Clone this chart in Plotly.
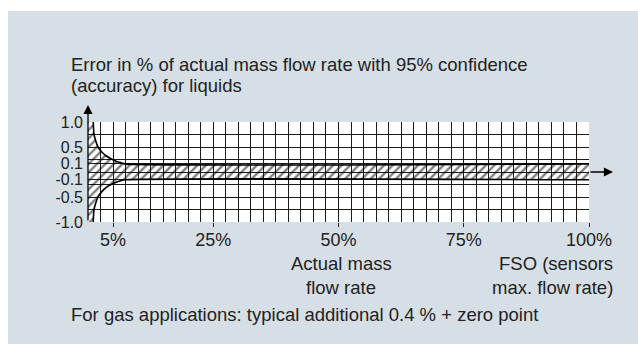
import plotly.graph_objects as go

# ---- data (x in % of FSO, y in visual grid rows: 1 row = one grid step) ----
X_UP = [1.05, 1.1, 1.2, 1.5, 2.0, 2.8, 3.6, 4.4, 5.6, 6.5, 7.4, 100]
Y_UP = [4.0, 3.5, 3.02, 2.54, 2.0, 1.58, 1.3, 1.1, 0.86, 0.75, 0.65, 0.65]
X_LO = [1.05, 1.1, 1.2, 1.5, 2.0, 2.8, 3.6, 4.4, 5.6, 6.5, 7.4, 100]
Y_LO = [-4.0, -3.5, -3.02, -2.54, -2.0, -1.55, -1.25, -1.05, -0.82, -0.7, -0.62, -0.62]

X_TICKS = [5, 25, 50, 75, 100]
X_LABELS = ["5%", "25%", "50%", "75%", "100%"]
Y_TICKS = [4, 2, 0.65, -0.62, -2, -4]
Y_LABELS = ["1.0", "0.5", "0.1", "-0.1", "-0.5", "-1.0"]

TITLE1 = "Error in % of actual mass flow rate with 95% confidence"
TITLE2 = "(accuracy) for liquids"
XLAB = ["Actual mass", "flow rate"]
FSO = ["FSO (sensors", "max. flow rate)"]
FOOT = "For gas applications: typical additional 0.4 % + zero point"

W, H = 638, 344
L, R, T, B = 88, 49, 122, 122
PANEL = "#d7dfe6"
TXT = "#222222"
FONT = "Liberation Sans, Arial, sans-serif"


def px(xp):
    return (xp - L) / (W - L - R)


def py(yp):
    return (H - B - yp) / (H - T - B)


fig = go.Figure()

# hatched tolerance band
poly_x = [0] + X_UP + X_LO[::-1] + [0]
poly_y = [Y_UP[0]] + Y_UP + Y_LO[::-1] + [Y_LO[0]]
fig.add_trace(go.Scatter(
    x=poly_x, y=poly_y, mode="lines", fill="toself",
    fillcolor="rgba(0,0,0,0)", line=dict(width=0),
    fillpattern=dict(shape="/", size=6, solidity=0.4, fgcolor="black"),
    hoverinfo="skip", showlegend=False))

for xs, ys in ((X_UP, Y_UP), (X_LO, Y_LO)):
    fig.add_trace(go.Scatter(
        x=xs, y=ys, mode="lines", line=dict(color="black", width=1.6, shape="spline", smoothing=0.6),
        hoverinfo="skip", showlegend=False))

fig.update_xaxes(
    range=[0, 100], tickvals=X_TICKS, ticktext=X_LABELS,
    showgrid=True, gridcolor="#1a1a1a", gridwidth=1,
    ticks="outside", ticklen=4, tickcolor="#222", tickwidth=1,
    zeroline=False, showline=False,
    tickfont=dict(size=18, color=TXT, family=FONT), ticklabelstandoff=-3,
    minor=dict(tick0=0, dtick=2.5, showgrid=True, gridcolor="#1a1a1a", gridwidth=1, ticks=""),
)
fig.update_yaxes(
    range=[-4, 4], tickvals=Y_TICKS, ticktext=Y_LABELS,
    showgrid=True, gridcolor="#1a1a1a", gridwidth=1,
    ticks="", zeroline=False, showline=False,
    tickfont=dict(size=16, color=TXT, family=FONT), ticklabelstandoff=4,
    minor=dict(tick0=-4, dtick=1, showgrid=True, gridcolor="#1a1a1a", gridwidth=1, ticks=""),
)

ann = []


def txt(s, xp, yp, anchor="left"):
    ann.append(dict(text=s, x=px(xp), y=py(yp), xref="paper", yref="paper",
                    xanchor=anchor, yanchor="middle", showarrow=False,
                    font=dict(size=18.5, color=TXT, family=FONT)))


txt(TITLE1, 69, 64.8)
txt(TITLE2, 69, 85.8)
txt(XLAB[0], 341, 263, "center")
txt(XLAB[1], 341, 287, "center")
txt(FSO[0], 615, 263, "right")
txt(FSO[1], 615, 287, "right")
txt(FOOT, 69, 314.5)

# axis arrows
ann.append(dict(text="", x=0, y=py(105), xref="x", yref="paper",
                ax=0, ay=222 - 105, axref="pixel", ayref="pixel",
                showarrow=True, arrowhead=2, arrowsize=1.4, arrowwidth=1.3, arrowcolor="black"))
ann.append(dict(text="", x=px(613), y=0, xref="paper", yref="y",
                ax=-(613 - 589), ay=0, axref="pixel", ayref="pixel",
                showarrow=True, arrowhead=2, arrowsize=1.4, arrowwidth=1.3, arrowcolor="black"))

shapes = [
    dict(type="rect", xref="paper", yref="paper", x0=px(0), x1=px(W), y0=py(0), y1=py(11),
         fillcolor="white", line=dict(width=0), layer="below"),
    dict(type="rect", xref="paper", yref="paper", x0=px(0), x1=px(8), y0=py(0), y1=py(H),
         fillcolor="white", line=dict(width=0), layer="below"),
]

fig.update_layout(
    width=W, height=H, margin=dict(l=L, r=R, t=T, b=B),
    paper_bgcolor=PANEL, plot_bgcolor="white",
    annotations=ann, shapes=shapes, showlegend=False,
    font=dict(family=FONT, color=TXT),
)

fig.write_html("out.html")
